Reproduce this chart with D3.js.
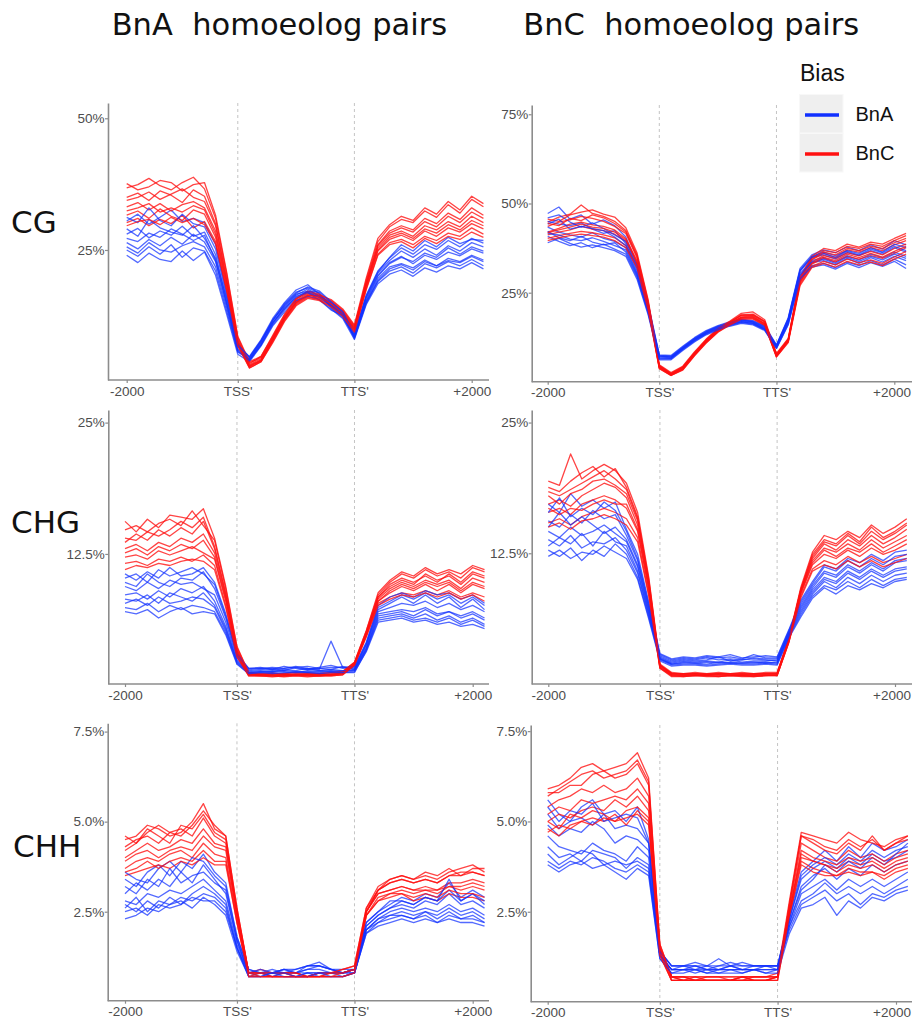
<!DOCTYPE html>
<html><head><meta charset="utf-8">
<script src="https://cdn.jsdelivr.net/npm/d3@7"></script>
<style>
body{margin:0;background:#fff}
svg{display:block}
text{white-space:pre}
</style>
</head><body>
<script>
// ---------- labels ----------
const columnTitles = ["BnA  homoeolog pairs", "BnC  homoeolog pairs"];
const contexts = ["CG", "CHG", "CHH"];
const xTickValues = [0, 1, 2, 3];
const xTickLabels = ["-2000", "TSS'", "TTS'", "+2000"];
const biasTitle = "Bias";
const biasLabels = ["BnA", "BnC"];
const binsPerRegion = 10;

const yTicksCG_A = [25, 50];            const yTickLabelsCG_A = ["25%", "50%"];
const yTicksCG_C = [25, 50, 75];        const yTickLabelsCG_C = ["25%", "50%", "75%"];
const yTicksCHG = [12.5, 25];           const yTickLabelsCHG = ["12.5%", "25%"];
const yTicksCHH = [2.5, 5, 7.5];        const yTickLabelsCHH = ["2.5%", "5.0%", "7.5%"];

// ---------- values (% methylation; 11 upstream, 10 gene body, 10 downstream bins) ----------
const cgA_BnA = [
 [30.5,31.8,29.9,31.2,32.6,30.4,31.0,30.2,26.0,16.8,7.2, 4.6,7.8,11.2,14.2,16.4,17.6,16.2,14.5,13.0,9.0, 16.4,21.0,23.5,25.4,24.2,26.0,25.1,26.8,25.6,27.2,26.3],
 [28.0,29.1,27.3,28.6,27.8,29.5,27.6,28.4,24.1,15.2,6.6, 4.2,7.4,11.6,14.8,17.0,17.8,16.8,14.0,12.2,8.6, 15.8,20.2,22.6,23.8,22.4,24.0,23.2,24.6,23.9,25.2,24.4],
 [26.4,25.2,27.0,25.8,27.4,26.1,28.0,26.5,22.8,14.6,6.0, 4.0,7.0,10.8,13.6,15.8,16.9,15.5,13.6,12.6,8.2, 15.2,19.6,21.8,22.4,21.6,23.1,22.0,23.4,22.8,24.0,23.1],
 [25.0,23.8,25.6,24.2,26.0,23.6,25.4,24.8,21.0,13.4,5.6, 4.4,7.6,11.8,14.4,16.6,17.2,17.0,15.0,13.4,8.4, 15.0,19.0,21.0,21.8,20.6,22.4,21.6,22.8,22.0,23.2,22.0],
 [24.0,22.6,24.4,23.2,22.8,24.8,23.0,24.6,20.2,12.8,5.2, 3.8,6.8,10.6,13.2,15.4,16.2,15.6,13.8,12.0,8.0, 14.6,18.6,20.4,21.2,20.0,21.6,20.8,22.0,21.4,22.6,21.4],
 [29.0,27.6,30.8,29.2,28.4,27.8,29.6,27.2,23.4,15.8,6.8, 4.8,8.0,12.0,15.0,17.4,18.4,16.6,14.6,12.8,8.8, 16.0,20.6,23.0,24.8,23.6,25.2,24.0,25.8,24.8,26.4,25.6],
 [27.2,26.6,28.2,27.4,29.0,28.0,26.8,27.8,23.0,14.8,6.2, 4.2,7.2,11.0,14.0,16.0,17.2,16.4,14.2,12.4,8.6, 15.4,20.0,22.4,23.6,22.8,24.4,23.6,25.4,24.2,25.6,24.8],
 [25.6,24.4,26.4,25.0,24.6,25.8,26.6,25.6,21.8,14.0,5.8, 4.0,7.0,11.2,13.8,16.2,17.0,16.0,14.4,12.6,8.4, 14.8,19.2,21.4,22.2,21.2,22.8,22.0,23.0,22.6,23.8,22.8],
 [31.2,30.2,33.0,30.6,29.6,31.8,30.0,29.4,25.2,16.2,7.0, 4.6,7.8,11.6,14.6,16.8,18.0,17.2,15.2,13.2,9.2, 16.2,20.8,23.6,26.0,24.8,26.8,25.6,27.4,26.2,27.0,26.8]
];
const cgA_BnC = [
 [36.8,37.4,38.6,37.2,36.4,37.8,38.8,36.6,31.0,20.4,8.4, 3.6,4.6,8.4,12.4,15.4,16.8,16.2,15.2,13.4,10.4, 19.2,26.6,29.4,30.8,30.2,32.4,31.2,33.6,32.0,34.6,33.2],
 [35.0,35.8,34.4,36.2,35.4,34.0,36.4,35.2,30.0,19.6,8.0, 3.2,4.4,8.0,12.0,15.2,16.6,16.0,15.0,13.2,10.2, 18.8,26.0,28.6,29.6,28.8,31.0,30.0,32.0,30.8,33.0,31.6],
 [33.2,34.0,32.6,33.8,32.4,33.6,34.2,33.0,28.6,18.8,7.6, 3.0,4.2,8.2,12.2,15.0,16.4,16.4,14.8,13.0,10.0, 18.4,25.4,27.8,28.6,27.6,29.6,28.8,30.4,29.4,31.4,30.2],
 [31.6,32.4,31.0,32.8,31.4,30.6,32.6,31.8,27.4,18.0,7.2, 2.8,4.0,7.8,11.8,14.8,16.2,15.8,14.6,12.8,9.8, 18.0,24.8,27.0,27.8,26.8,28.6,27.6,29.2,28.4,30.0,29.0],
 [30.2,31.0,29.6,30.8,30.0,31.6,29.2,30.4,26.6,17.4,7.0, 2.6,3.8,7.6,11.6,14.6,16.0,15.6,14.4,12.6,9.6, 17.6,24.2,26.4,27.0,26.0,27.6,26.8,28.2,27.6,29.2,28.0],
 [34.4,35.0,36.0,34.6,35.6,36.6,35.0,34.2,29.6,19.2,7.8, 3.4,4.8,8.6,12.6,15.6,17.2,16.6,15.4,13.6,10.6, 18.6,25.8,28.2,29.2,28.4,30.4,29.4,31.4,30.2,32.2,31.0],
 [37.6,36.4,37.0,38.2,37.8,36.2,37.4,37.8,31.6,20.8,8.6, 3.8,4.8,8.8,12.8,15.8,17.0,16.4,15.6,13.8,10.8, 19.6,27.2,29.8,31.4,30.6,33.0,31.8,34.2,32.6,35.2,33.8],
 [32.4,33.0,33.8,32.2,33.0,32.2,33.4,32.6,28.0,18.4,7.4, 2.9,4.1,8.0,12.0,15.0,16.4,16.0,14.8,13.0,10.0, 18.2,25.0,27.4,28.2,27.2,29.0,28.2,29.8,28.8,30.6,29.6],
 [29.6,30.4,30.8,29.8,31.2,30.2,31.0,29.8,26.2,17.2,6.8, 2.6,3.8,7.4,11.4,14.4,15.8,15.4,14.2,12.4,9.4, 17.4,24.0,26.0,26.6,25.4,27.2,26.2,27.6,27.0,28.4,27.4]
];
const cgC_BnA = [
 [47.2,49.0,45.6,46.8,44.2,45.4,43.8,40.6,33.0,22.0,7.6, 7.4,10.0,12.4,14.4,15.8,16.8,17.6,17.2,15.8,10.4, 18.0,31.8,35.6,37.0,36.2,37.8,36.8,38.4,37.2,39.6,38.4],
 [45.0,44.2,43.8,44.6,42.8,41.6,42.4,38.8,31.8,21.2,7.2, 7.0,9.6,12.0,14.0,15.4,16.4,17.2,16.8,15.2,10.0, 17.4,31.0,34.8,35.6,34.4,36.2,35.4,36.8,35.8,37.6,36.4],
 [43.4,42.0,41.2,40.6,41.8,40.2,39.4,37.6,30.6,20.4,7.0, 6.8,9.4,11.8,13.8,15.2,16.2,17.0,16.6,15.0,9.8, 17.0,30.4,34.0,34.8,33.6,35.4,34.2,35.8,34.8,36.4,35.2],
 [42.2,40.4,39.6,40.8,39.2,38.4,39.0,36.4,29.8,19.8,6.8, 6.6,9.2,11.6,13.6,15.0,16.0,16.8,16.4,14.8,9.6, 16.6,29.8,33.4,34.0,32.8,34.6,33.2,34.8,33.6,35.2,34.0],
 [40.8,39.4,38.2,39.0,37.6,38.6,37.2,35.8,29.4,19.2,6.4, 6.4,9.0,11.4,13.4,14.8,15.8,16.6,16.2,14.6,9.4, 16.2,29.2,32.6,33.2,32.0,33.6,32.6,34.0,32.8,34.4,32.8],
 [46.0,46.8,44.8,43.4,44.6,43.0,41.2,39.4,32.4,21.6,7.4, 7.2,9.8,12.2,14.2,15.6,16.6,17.4,17.0,15.6,10.2, 17.8,31.4,35.2,36.4,35.4,36.8,36.0,37.6,36.4,38.6,37.6],
 [44.2,45.6,42.8,43.6,43.0,42.4,40.6,38.2,31.2,20.8,7.2, 7.0,9.6,12.0,14.0,15.4,16.4,17.4,16.8,15.4,10.2, 17.6,31.2,35.0,36.0,34.8,36.6,35.6,37.2,36.2,38.0,36.8],
 [41.6,41.2,40.0,39.6,40.4,39.4,38.2,37.0,30.2,19.6,6.6, 6.6,9.2,11.6,13.6,15.0,16.0,16.8,16.4,14.8,9.8, 16.8,30.0,33.6,34.4,33.2,35.0,33.8,35.2,34.2,35.8,34.6],
 [39.0,40.2,38.8,37.8,38.4,37.6,36.8,35.2,28.8,18.8,6.2, 6.2,8.8,11.2,13.2,14.6,15.6,16.4,16.0,14.4,9.4, 16.0,28.8,32.2,32.8,31.6,33.2,32.0,33.4,32.4,33.8,31.8]
];
const cgC_BnC = [
 [44.8,46.2,47.0,49.6,47.2,46.4,45.0,42.4,35.6,22.6,4.6, 2.4,4.2,8.2,11.8,14.8,16.8,18.8,19.0,17.0,7.8, 12.0,29.0,34.8,36.8,36.2,38.0,37.4,38.6,38.0,39.6,41.0],
 [43.6,44.8,45.4,46.4,45.8,45.0,43.6,41.6,34.8,22.0,4.4, 2.2,4.0,8.0,11.6,14.6,16.6,18.6,18.6,16.8,7.6, 11.8,28.6,34.2,36.0,35.0,37.0,36.4,37.6,36.8,38.4,39.6],
 [42.0,43.0,44.2,44.8,44.0,43.6,42.6,40.2,34.0,21.4,4.2, 2.0,3.8,7.8,11.4,14.4,16.4,18.2,18.4,16.4,7.4, 11.6,28.2,33.6,35.4,34.6,36.2,35.4,36.6,35.6,37.4,38.6],
 [41.2,42.0,42.6,43.6,42.8,42.4,41.4,39.4,33.2,21.0,4.0, 1.9,3.6,7.6,11.2,14.2,16.2,18.0,18.0,16.2,7.2, 11.4,27.8,33.0,34.6,33.6,35.2,34.4,35.4,34.6,36.0,37.6],
 [40.2,41.0,41.6,42.2,41.8,41.2,40.4,38.2,32.6,20.6,3.8, 1.8,3.4,7.4,11.0,14.0,16.0,17.8,17.8,16.0,7.0, 11.2,27.4,32.4,33.8,32.8,34.4,33.4,34.2,33.2,35.0,36.6],
 [45.6,45.0,46.8,47.6,48.2,47.0,46.2,43.2,36.2,23.0,4.8, 2.6,4.4,8.4,12.0,15.0,17.0,19.2,19.6,17.4,8.0, 12.2,29.4,35.2,37.4,36.8,38.6,37.8,39.2,38.6,40.2,41.6],
 [44.4,43.8,45.8,45.2,46.8,46.0,44.4,42.0,35.2,22.2,4.5, 2.3,4.1,8.1,11.7,14.7,16.7,18.7,18.8,16.9,7.6, 11.9,28.8,34.4,36.4,35.6,37.4,36.8,38.0,37.4,39.0,40.2],
 [41.8,42.6,43.4,44.2,43.4,43.0,42.0,39.8,33.6,21.2,4.1, 2.0,3.7,7.7,11.3,14.3,16.3,18.1,18.2,16.3,7.2, 11.5,28.0,33.2,35.0,34.0,35.8,34.8,36.0,35.0,36.6,38.0],
 [39.6,40.4,41.0,41.4,41.0,40.6,39.6,37.6,32.0,20.2,3.7, 1.8,3.3,7.3,10.9,13.9,15.9,17.6,17.6,15.8,7.0, 11.0,27.0,32.0,33.2,32.2,33.8,32.8,33.6,32.6,34.4,35.8]
];
const chgA_BnA = [
 [10.2,10.6,9.8,11.0,10.4,10.8,11.2,10.6,9.6,6.6,2.9, 1.6,1.7,1.5,1.8,1.6,1.5,1.7,1.9,1.6,1.7, 4.0,7.4,8.0,8.6,8.2,8.8,8.2,8.6,7.8,8.4,7.6],
 [9.4,9.0,9.8,9.2,10.0,9.6,9.8,9.2,8.6,6.0,2.6, 1.4,1.5,1.6,1.4,1.7,1.5,1.6,1.5,1.8,1.5, 3.8,7.0,7.4,7.8,7.6,8.0,7.4,7.8,7.2,7.6,7.0],
 [8.6,8.8,8.2,9.0,8.4,9.2,8.8,9.4,8.0,5.6,2.4, 1.3,1.4,1.3,1.5,1.4,1.6,1.4,1.5,1.4,1.5, 3.6,6.8,7.0,7.2,7.0,7.4,6.8,7.0,6.6,7.0,6.4],
 [7.8,8.2,7.6,8.4,7.8,8.0,8.4,8.2,7.4,5.2,2.2, 1.2,1.3,1.4,1.3,1.2,1.4,1.3,1.4,1.3,1.4, 3.4,6.4,6.6,6.8,6.4,6.8,6.2,6.6,6.0,6.4,5.8],
 [7.0,6.8,7.2,6.4,7.0,7.4,6.8,7.0,6.8,4.8,2.0, 1.1,1.2,1.2,1.1,1.3,1.2,1.2,1.3,1.2,1.3, 3.2,6.0,6.2,6.4,6.0,6.2,5.8,6.0,5.6,5.8,5.4],
 [9.8,9.4,10.6,9.8,9.4,10.2,10.0,10.8,9.2,6.4,2.8, 1.5,1.6,1.5,1.6,1.8,1.6,1.5,4.2,1.7,1.6, 3.9,7.2,7.8,8.4,7.8,8.6,7.8,8.4,7.4,8.2,7.2],
 [10.6,10.0,10.8,10.2,11.2,10.4,10.6,11.2,9.8,6.8,3.0, 1.6,1.6,1.7,1.6,1.7,1.8,1.6,1.7,1.7,1.8, 4.1,7.6,8.4,8.8,8.4,9.0,8.6,8.8,8.2,8.6,7.8],
 [8.2,8.0,8.6,7.8,8.8,8.4,8.0,8.8,7.6,5.4,2.3, 1.2,1.3,1.3,1.4,1.3,1.3,1.4,1.3,1.4,1.4, 3.5,6.6,6.8,7.0,6.6,7.2,6.6,7.0,6.4,6.8,6.2],
 [7.4,7.2,7.8,7.0,7.6,7.2,7.6,7.4,7.0,5.0,2.1, 1.1,1.2,1.1,1.2,1.2,1.2,1.1,1.2,1.2,1.2, 3.3,6.2,6.4,6.6,6.2,6.4,6.0,6.4,5.8,6.2,5.6]
];
const chgA_BnC = [
 [14.8,15.2,14.6,15.4,15.8,15.2,16.6,15.2,13.8,9.2,3.6, 1.2,1.1,1.2,1.0,1.1,1.2,1.1,1.2,1.3,2.2, 5.2,8.6,9.8,10.6,10.2,11.0,10.4,10.8,10.2,11.2,10.8],
 [14.0,13.8,14.6,14.2,14.8,15.6,15.0,16.0,13.2,8.8,3.4, 1.1,1.0,1.1,1.0,1.0,1.1,1.0,1.1,1.2,2.1, 5.0,8.4,9.6,10.2,9.8,10.4,9.8,10.6,9.8,10.8,10.4],
 [13.0,13.4,12.8,13.6,13.2,14.0,13.6,14.4,12.6,8.4,3.2, 1.0,1.0,0.9,1.0,1.0,1.0,1.0,1.0,1.1,2.0, 4.9,8.2,9.2,9.8,9.4,10.0,9.6,10.0,9.2,10.2,9.8],
 [12.2,12.4,12.0,12.8,12.4,12.8,13.2,12.6,12.0,8.0,3.0, 1.0,0.9,0.9,0.9,1.0,0.9,0.9,1.0,1.1,2.0, 4.8,8.0,8.8,9.4,9.0,9.6,9.0,9.6,8.8,9.6,9.2],
 [11.6,11.8,11.4,12.0,11.8,12.2,11.8,12.4,11.4,7.6,2.8, 0.9,0.9,0.8,0.9,0.9,0.9,0.9,0.9,1.0,1.9, 4.7,7.8,8.4,8.8,8.6,9.0,8.6,9.0,8.4,8.8,8.4],
 [13.6,14.4,13.8,14.8,14.2,15.0,14.4,15.6,13.0,8.6,3.3, 1.1,1.0,1.0,1.1,1.0,1.0,1.1,1.0,1.2,2.1, 5.0,8.4,9.4,10.0,9.6,10.6,10.0,10.4,9.6,10.6,10.2],
 [15.6,14.6,15.8,15.0,16.2,16.0,15.8,16.8,14.0,9.4,3.7, 1.2,1.1,1.1,1.1,1.2,1.1,1.1,1.2,1.3,2.2, 5.2,8.8,10.0,10.8,10.4,11.2,10.6,11.0,10.6,11.4,11.0],
 [12.6,13.0,12.4,13.2,12.8,13.4,13.0,13.8,12.2,8.2,3.1, 1.0,1.0,1.0,0.9,1.0,1.0,0.9,1.0,1.1,2.0, 4.8,8.0,9.0,9.6,9.2,9.8,9.4,9.8,9.0,9.8,9.4],
 [11.0,11.4,11.2,11.6,11.4,11.8,12.0,11.8,11.0,7.4,2.7, 0.9,0.9,0.9,0.8,0.9,0.8,0.9,0.9,1.0,1.9, 4.6,7.6,8.2,8.6,8.4,8.8,8.4,8.8,8.2,8.6,8.0]
];
const chgC_BnA = [
 [17.2,16.4,18.2,17.0,17.6,16.8,17.4,14.8,12.4,7.8,2.9, 2.4,2.6,2.5,2.7,2.6,2.8,2.5,2.6,2.7,2.6, 5.2,8.0,9.8,11.4,11.0,12.0,11.6,12.4,11.8,12.6,12.8],
 [15.6,15.0,16.2,15.4,16.6,15.8,16.2,14.2,11.8,7.4,2.7, 2.2,2.4,2.3,2.5,2.3,2.4,2.3,2.5,2.4,2.4, 5.0,7.6,9.4,10.8,10.4,11.4,10.8,11.6,11.0,11.8,12.0],
 [14.6,14.0,15.0,14.2,14.6,15.2,14.4,13.6,11.2,7.0,2.5, 2.0,2.2,2.1,2.2,2.1,2.3,2.1,2.2,2.2,2.3, 4.8,7.2,9.0,10.2,9.8,10.8,10.2,11.0,10.4,11.0,11.2],
 [13.8,13.2,14.2,13.0,13.6,13.4,14.0,12.8,10.6,6.6,2.4, 1.9,2.0,2.0,1.9,2.1,2.0,2.0,2.1,2.0,2.1, 4.6,6.8,8.6,9.8,9.2,10.2,9.6,10.4,9.8,10.4,10.6],
 [12.2,12.8,12.0,12.6,12.4,13.2,12.6,12.0,10.0,6.2,2.2, 1.7,1.8,1.8,1.7,1.8,1.9,1.8,1.8,1.9,1.8, 4.4,6.4,8.2,9.2,8.6,9.4,9.0,9.6,9.2,9.8,10.0],
 [15.0,16.4,15.2,16.0,15.2,14.4,15.0,13.8,11.4,7.2,2.6, 2.1,2.3,2.2,2.3,2.6,2.2,2.3,2.4,2.3,2.2, 4.9,7.4,9.2,10.6,10.2,11.2,10.6,11.4,10.8,11.6,11.8],
 [16.4,17.8,16.0,16.8,16.2,17.4,16.6,14.6,12.0,7.6,2.8, 2.3,2.5,2.4,2.6,2.5,2.6,2.4,2.8,2.5,2.5, 5.1,7.8,9.6,11.2,10.8,11.8,11.2,12.0,11.4,12.2,12.4],
 [13.2,14.0,13.4,14.4,13.2,14.6,13.6,13.2,10.8,6.8,2.4, 1.9,2.1,2.0,2.1,2.0,2.1,2.0,2.0,2.1,2.0, 4.7,7.0,8.8,10.0,9.6,10.6,10.0,10.8,10.2,10.8,11.0],
 [12.8,12.2,13.0,11.8,12.8,12.2,13.4,12.4,10.2,6.4,2.3, 1.8,1.9,1.9,1.8,1.9,2.0,1.9,1.9,2.0,1.9, 4.5,6.6,8.4,9.4,9.0,9.8,9.2,10.0,9.4,10.0,10.2]
];
const chgC_BnC = [
 [19.4,19.0,22.0,19.6,20.4,21.0,20.4,19.2,16.4,10.2,1.9, 1.1,1.0,1.1,1.0,1.1,1.0,1.1,1.0,1.1,1.1, 4.4,9.2,12.6,14.2,13.8,14.6,14.0,15.2,14.4,15.0,15.8],
 [18.4,18.0,18.6,19.2,19.8,20.4,19.6,18.6,15.8,9.8,1.8, 1.0,1.0,1.0,0.9,1.0,1.0,0.9,1.0,1.0,1.0, 4.3,9.0,12.2,13.6,13.2,14.2,13.4,14.6,13.8,14.4,15.2],
 [17.2,17.6,17.0,18.0,18.6,19.2,18.8,17.8,15.2,9.4,1.7, 0.9,0.9,0.9,0.9,0.9,0.9,0.9,0.9,0.9,0.9, 4.2,8.8,11.8,13.0,12.6,13.4,12.8,13.8,13.0,13.6,14.2],
 [16.4,16.8,16.2,17.2,17.6,18.0,17.6,16.8,14.6,9.0,1.6, 0.8,0.8,0.9,0.8,0.8,0.8,0.8,0.8,0.8,0.9, 4.1,8.6,11.4,12.4,12.0,12.8,12.2,13.0,12.4,12.8,13.4],
 [15.4,15.8,15.2,16.0,16.4,16.8,16.4,15.8,14.0,8.6,1.5, 0.8,0.7,0.8,0.8,0.7,0.8,0.8,0.7,0.8,0.8, 4.0,8.4,11.0,11.8,11.4,12.2,11.6,12.2,11.6,12.0,12.4],
 [18.8,18.4,19.4,20.2,20.8,19.8,20.6,18.8,16.0,10.0,1.8, 1.0,1.0,1.0,1.0,1.0,1.0,1.0,1.0,1.0,1.0, 4.3,9.0,12.4,13.8,13.4,14.4,13.6,15.0,14.0,14.6,15.4],
 [18.0,17.2,18.2,18.6,19.4,19.6,19.0,18.2,15.6,9.6,1.8, 1.0,0.9,1.0,0.9,1.0,0.9,1.0,0.9,1.0,1.0, 4.3,8.9,12.0,13.4,12.8,13.8,13.2,14.2,13.4,14.0,14.8],
 [16.8,16.2,16.8,16.6,17.2,17.6,17.2,17.2,14.8,9.2,1.6, 0.9,0.8,0.8,0.8,0.9,0.8,0.8,0.8,0.9,0.8, 4.1,8.7,11.6,12.8,12.2,13.0,12.6,13.4,12.6,13.2,13.8],
 [15.0,15.4,14.8,15.6,15.8,16.2,15.8,15.2,13.6,8.4,1.5, 0.7,0.7,0.8,0.7,0.7,0.8,0.7,0.7,0.8,0.8, 4.0,8.2,10.8,11.4,11.0,11.8,11.2,11.8,11.2,11.6,12.0]
];
const chhA_BnA = [
 [3.4,3.2,3.6,3.8,3.5,3.9,3.7,4.1,3.6,3.3,1.8, 0.9,0.8,0.9,0.8,0.9,1.0,1.1,0.9,0.9,0.9, 2.2,2.5,2.7,2.9,2.8,3.0,2.9,3.3,2.9,3.1,2.9],
 [3.0,3.3,3.1,3.4,3.2,3.6,3.3,3.8,3.4,3.0,1.7, 0.8,0.8,0.8,0.9,0.8,0.9,1.0,0.9,0.8,0.9, 2.1,2.4,2.6,2.7,2.6,2.8,2.7,3.0,2.7,2.8,2.6],
 [2.8,2.7,3.0,2.9,3.1,3.0,3.2,3.4,3.1,2.8,1.6, 0.8,0.8,0.8,0.8,0.8,0.9,0.9,0.8,0.8,0.8, 2.0,2.3,2.5,2.6,2.5,2.6,2.5,2.7,2.5,2.6,2.4],
 [2.6,2.9,2.5,2.8,2.7,2.9,2.8,3.0,2.9,2.6,1.5, 0.7,0.8,0.7,0.8,0.8,0.8,0.8,0.8,0.7,0.8, 2.0,2.2,2.4,2.4,2.3,2.5,2.3,2.5,2.3,2.4,2.2],
 [2.3,2.4,2.6,2.5,2.7,2.8,2.6,2.9,2.7,2.4,1.4, 0.7,0.7,0.7,0.7,0.7,0.8,0.7,0.7,0.7,0.8, 1.9,2.1,2.2,2.3,2.2,2.3,2.2,2.3,2.2,2.2,2.1],
 [3.2,3.0,3.4,3.2,3.7,3.3,3.5,3.6,3.3,3.1,1.7, 0.8,0.9,0.8,0.9,0.8,1.0,1.0,0.9,0.8,0.9, 2.1,2.4,2.6,2.8,2.7,2.9,2.8,3.4,2.8,3.0,2.8],
 [3.6,3.4,3.3,3.7,3.9,3.6,4.0,3.9,3.5,3.2,1.8, 0.9,0.8,0.8,0.9,0.9,1.0,1.0,0.9,0.8,0.9, 2.2,2.5,2.8,2.8,2.7,2.9,2.8,3.1,2.8,3.0,2.7],
 [2.7,2.5,2.8,2.6,2.9,2.7,3.0,3.2,3.0,2.7,1.5, 0.8,0.7,0.8,0.8,0.7,0.8,0.8,0.8,0.8,0.8, 2.0,2.3,2.4,2.5,2.4,2.5,2.4,2.6,2.4,2.5,2.3],
 [2.5,2.6,2.4,2.7,2.6,2.7,2.9,2.8,2.8,2.5,1.5, 0.7,0.7,0.8,0.7,0.7,0.7,0.8,0.7,0.7,0.8, 1.9,2.2,2.3,2.4,2.3,2.4,2.2,2.4,2.3,2.3,2.2]
];
const chhA_BnC = [
 [4.5,4.6,4.9,4.8,4.6,4.7,5.0,5.5,4.8,4.6,2.6, 0.8,0.9,0.8,0.8,0.8,0.7,0.8,0.8,0.9,1.0, 2.6,3.2,3.4,3.5,3.4,3.5,3.4,3.6,3.7,3.8,3.6],
 [4.3,4.5,4.6,4.4,4.7,4.8,4.6,5.1,4.6,4.4,2.5, 0.8,0.8,0.8,0.8,0.7,0.7,0.8,0.8,0.8,0.9, 2.5,3.1,3.3,3.4,3.3,3.4,3.3,3.5,3.6,3.6,3.5],
 [4.0,4.2,4.4,4.2,4.3,4.5,4.4,4.8,4.4,4.3,2.4, 0.8,0.8,0.7,0.8,0.7,0.7,0.7,0.8,0.8,0.9, 2.5,3.0,3.1,3.2,3.1,3.2,3.1,3.3,3.3,3.4,3.3],
 [3.7,3.9,4.0,3.9,4.1,4.2,4.0,4.4,4.1,4.0,2.3, 0.7,0.8,0.7,0.7,0.7,0.7,0.7,0.7,0.8,0.9, 2.4,2.9,3.0,3.1,3.0,3.1,3.0,3.2,3.1,3.2,3.1],
 [3.5,3.6,3.7,3.8,3.7,3.9,3.8,4.0,3.8,3.8,2.2, 0.7,0.7,0.7,0.7,0.7,0.7,0.7,0.7,0.7,0.8, 2.4,2.8,2.9,3.0,2.8,2.9,2.8,3.0,2.9,2.9,2.8],
 [4.2,4.4,4.8,4.6,4.4,4.9,4.8,5.2,4.7,4.5,2.5, 0.8,0.8,0.8,0.8,0.8,0.7,0.8,0.8,0.8,0.9, 2.5,3.1,3.3,3.4,3.3,3.4,3.3,3.5,3.5,3.6,3.5],
 [4.6,4.4,4.7,4.9,4.7,4.6,4.9,5.3,4.9,4.6,2.6, 0.8,0.8,0.8,0.8,0.8,0.7,0.8,0.8,0.9,1.0, 2.6,3.1,3.4,3.5,3.4,3.6,3.5,3.7,3.5,3.7,3.7],
 [3.9,4.1,4.2,4.0,4.2,4.3,4.2,4.6,4.3,4.2,2.4, 0.8,0.7,0.7,0.7,0.7,0.7,0.7,0.8,0.8,0.9, 2.5,3.0,3.1,3.2,3.1,3.1,3.1,3.2,3.2,3.3,3.2],
 [3.6,3.7,3.9,3.7,3.9,4.0,3.9,4.2,3.9,3.9,2.2, 0.7,0.7,0.7,0.7,0.7,0.7,0.7,0.7,0.7,0.8, 2.4,2.8,3.0,3.0,2.9,3.0,2.9,3.1,3.0,3.0,2.9]
];
const chhC_BnA = [
 [5.6,5.2,5.0,5.4,5.6,5.2,5.3,5.0,5.4,4.5,1.4, 1.0,1.0,1.1,1.0,1.2,1.0,1.1,1.0,1.0,1.0, 2.4,3.6,3.9,4.2,3.9,4.3,4.0,4.4,4.2,4.3,4.5],
 [5.2,4.8,5.0,5.1,4.9,5.2,4.8,4.9,4.8,4.4,1.4, 1.0,1.0,1.0,0.9,1.0,1.0,1.0,1.0,1.0,1.0, 2.3,3.4,3.7,3.9,3.7,4.0,3.8,4.1,3.9,4.0,4.2],
 [4.9,4.6,4.8,4.7,5.0,4.8,4.4,4.6,4.5,4.2,1.3, 0.9,0.9,1.0,0.9,0.9,1.0,0.9,0.9,1.0,0.9, 2.2,3.2,3.5,3.7,3.4,3.7,3.5,3.8,3.6,3.8,3.9],
 [4.3,4.0,4.1,3.9,4.2,4.1,4.0,3.7,4.0,3.8,1.3, 0.9,0.9,0.9,0.9,0.9,0.9,0.9,0.9,0.9,0.9, 2.1,3.0,3.2,3.4,3.1,3.4,3.2,3.4,3.2,3.4,3.6],
 [3.9,3.7,3.9,3.8,4.0,3.9,3.7,3.6,3.8,3.6,1.2, 0.8,0.9,0.8,0.9,0.8,0.9,0.8,0.9,0.8,0.9, 2.0,2.7,2.9,3.1,2.8,3.0,2.7,3.0,2.9,3.1,3.2],
 [4.6,4.3,4.2,4.1,4.4,4.2,4.1,3.9,4.3,4.0,1.3, 0.9,1.0,0.9,1.0,0.9,1.0,0.9,1.0,1.0,1.0, 2.2,3.1,3.4,3.8,3.6,3.9,3.7,4.0,3.8,4.1,4.4],
 [5.4,5.0,5.3,5.2,5.5,5.0,5.1,5.2,5.1,4.4,1.4, 1.0,1.0,1.0,1.0,1.0,1.1,1.0,1.0,1.0,1.0, 2.3,3.5,3.8,4.0,3.8,4.1,3.9,4.2,4.0,4.2,4.3],
 [4.1,3.8,4.0,4.2,4.1,3.8,3.9,3.8,3.9,3.7,1.3, 0.9,0.9,0.9,0.8,0.9,0.9,0.9,0.9,0.9,0.9, 2.1,2.8,3.0,3.3,3.0,3.2,3.0,3.2,3.0,3.2,3.4],
 [3.8,3.6,3.8,3.9,3.7,3.8,3.6,3.4,3.7,3.5,1.2, 0.8,0.8,0.9,0.8,0.8,0.8,0.8,0.9,0.8,0.8, 1.9,2.6,2.7,2.9,2.4,2.8,2.6,2.9,2.8,3.0,3.1]
];
const chhC_BnC = [
 [5.9,6.0,6.2,6.5,6.6,6.4,6.5,6.6,6.9,6.2,1.6, 0.7,0.7,0.7,0.7,0.7,0.7,0.7,0.7,0.7,0.8, 2.8,4.7,4.6,4.5,4.4,4.7,4.5,4.4,4.3,4.5,4.6],
 [5.8,5.8,6.0,6.0,6.3,6.4,6.2,6.3,6.6,6.0,1.5, 0.7,0.7,0.6,0.7,0.7,0.6,0.7,0.7,0.7,0.7, 2.7,4.6,4.4,4.2,4.1,4.4,4.2,4.6,4.2,4.4,4.5],
 [5.4,5.6,5.7,5.9,5.8,6.0,5.8,5.9,6.2,5.7,1.5, 0.7,0.7,0.6,0.6,0.6,0.6,0.6,0.7,0.7,0.7, 2.6,4.4,4.2,4.0,3.9,4.2,4.0,4.1,3.9,4.1,4.2],
 [5.0,5.2,5.1,5.3,5.4,5.3,5.6,5.4,5.7,5.3,1.4, 0.6,0.6,0.6,0.6,0.6,0.6,0.6,0.6,0.6,0.7, 2.5,4.1,3.9,3.8,3.7,3.9,3.8,3.9,3.7,3.9,4.0],
 [4.8,4.6,4.9,5.0,5.1,5.0,5.2,4.9,5.3,5.0,1.3, 0.6,0.6,0.6,0.6,0.6,0.6,0.6,0.6,0.6,0.6, 2.4,3.9,3.7,3.6,3.5,3.7,3.6,3.6,3.5,3.7,3.8],
 [5.0,4.8,5.2,5.1,5.3,5.2,5.0,5.3,5.4,5.1,1.4, 0.7,0.6,0.7,0.6,0.6,0.6,0.7,0.6,0.6,0.7, 2.5,4.0,3.9,3.8,3.6,3.8,3.7,3.8,3.6,3.8,3.9],
 [5.7,5.9,6.1,6.3,6.4,6.2,6.3,6.4,6.7,6.1,1.6, 0.7,0.7,0.7,0.7,0.7,0.7,0.7,0.7,0.7,0.7, 2.7,4.6,4.5,4.3,4.2,4.5,4.3,4.5,4.2,4.4,4.6],
 [5.2,5.4,5.3,5.6,5.5,5.6,5.7,5.6,5.9,5.5,1.5, 0.7,0.6,0.6,0.6,0.6,0.6,0.7,0.6,0.6,0.7, 2.5,4.2,4.0,3.9,3.8,4.0,3.9,4.0,3.8,4.0,4.1],
 [4.7,4.9,4.8,5.0,4.9,5.1,5.0,5.1,5.2,4.9,1.3, 0.6,0.6,0.6,0.6,0.6,0.6,0.6,0.6,0.6,0.6, 2.4,3.8,3.6,3.5,3.5,3.6,3.5,3.6,3.4,3.6,3.7]
];

// ---------- layout ----------
const W = 912, H = 1021;
const colors = {BnA: "#1030ff", BnC: "#ff1010"};
const panels = [
 {left:108, right:489, top:103, bottom:380, x0:126.7, x3:471.7, yDomain:[0.32,52.9], ticks:yTicksCG_A, tickLabels:yTickLabelsCG_A, a:cgA_BnA, c:cgA_BnC},
 {left:531.7, right:912, top:105, bottom:381.7, x0:547.7, x3:894.3, yDomain:[0.06,77.6], ticks:yTicksCG_C, tickLabels:yTickLabelsCG_C, a:cgC_BnA, c:cgC_BnC},
 {left:108.3, right:489, top:410, bottom:684, x0:125, x3:472.7, yDomain:[0.12,26.2], ticks:yTicksCHG, tickLabels:yTickLabelsCHG, a:chgA_BnA, c:chgA_BnC},
 {left:531.7, right:912, top:410, bottom:684, x0:548.3, x3:895, yDomain:[0,26.2], ticks:yTicksCHG, tickLabels:yTickLabelsCHG, a:chgC_BnA, c:chgC_BnC},
 {left:107.7, right:489, top:723.3, bottom:1000.7, x0:125, x3:472.7, yDomain:[0.03,7.73], ticks:yTicksCHH, tickLabels:yTickLabelsCHH, a:chhA_BnA, c:chhA_BnC},
 {left:530.7, right:912, top:725, bottom:1001.7, x0:547.7, x3:896, yDomain:[0.01,7.67], ticks:yTicksCHH, tickLabels:yTickLabelsCHH, a:chhC_BnA, c:chhC_BnC}
];
const regionFrac = [0, 0.322, 0.66, 1];

const svg = d3.select("body").append("svg").attr("width", W).attr("height", H);

// column titles
const titleX = [111.7, 523.3];
columnTitles.forEach((t, i) => {
  svg.append("text").attr("x", titleX[i]).attr("y", 35)
    .attr("font-family", "DejaVu Sans").attr("font-size", 30.5).attr("fill", "#111").text(t);
});
// row labels
const rowLabelPos = [[11, 233], [11, 533], [13, 857]];
contexts.forEach((t, i) => {
  svg.append("text").attr("x", rowLabelPos[i][0]).attr("y", rowLabelPos[i][1])
    .attr("font-family", "DejaVu Sans").attr("font-size", 31).attr("fill", "#111").text(t);
});

const axisColor = "#8c8c8c";
const tickTextColor = "#4d4d4d";
const tickFont = "Liberation Sans, Arial, sans-serif";

panels.forEach(p => {
  const g = svg.append("g");
  const span = p.x3 - p.x0;
  const x = d3.scaleLinear().domain(xTickValues).range(regionFrac.map(f => p.x0 + f * span));
  const y = d3.scaleLinear().domain(p.yDomain).range([p.bottom, p.top]);

  // dashed region boundaries
  [1, 2].forEach(v => {
    g.append("line").attr("x1", x(v)).attr("x2", x(v)).attr("y1", p.top).attr("y2", p.bottom)
      .attr("stroke", "#c4c4c4").attr("stroke-width", 1).attr("stroke-dasharray", "3,3");
  });

  // lines (pairs interleaved)
  const line = d3.line().x((d, i) => x(i / binsPerRegion)).y(d => y(d));
  const n = Math.max(p.a.length, p.c.length);
  for (let i = 0; i < n; i++) {
    if (p.a[i]) g.append("path").attr("d", line(p.a[i])).attr("fill", "none")
      .attr("stroke", colors.BnA).attr("stroke-width", 1.3).attr("stroke-opacity", 0.72).attr("stroke-linejoin", "round");
    if (p.c[i]) g.append("path").attr("d", line(p.c[i])).attr("fill", "none")
      .attr("stroke", colors.BnC).attr("stroke-width", 1.3).attr("stroke-opacity", 0.78).attr("stroke-linejoin", "round");
  }

  // y axis
  const ya = g.append("g").attr("transform", `translate(${p.left},0)`)
    .call(d3.axisLeft(y).tickValues(p.ticks).tickFormat((d, i) => p.tickLabels[i]).tickSize(3).tickSizeOuter(0));
  ya.select(".domain").attr("stroke", axisColor).attr("stroke-width", 1.6);
  ya.selectAll(".tick line").attr("stroke", axisColor).attr("stroke-width", 1.2);
  ya.selectAll(".tick text").attr("x", -3.5).attr("fill", tickTextColor)
    .attr("font-family", tickFont).attr("font-size", 13.5);

  // x axis
  const xa = g.append("g").attr("transform", `translate(0,${p.bottom})`)
    .call(d3.axisBottom(x).tickValues(xTickValues).tickFormat((d, i) => xTickLabels[i]).tickSize(3).tickSizeOuter(0));
  xa.select(".domain").remove();
  xa.append("line").attr("x1", p.left).attr("x2", p.right).attr("y1", 0).attr("y2", 0)
    .attr("stroke", axisColor).attr("stroke-width", 1.6);
  xa.selectAll(".tick line").attr("stroke", axisColor).attr("stroke-width", 1.2);
  xa.selectAll(".tick text").attr("y", 6).attr("fill", tickTextColor)
    .attr("font-family", tickFont).attr("font-size", 13.5)
    .each(function () {
      // keep labels inside the page
      const bb = this.getBBox();
      const tr = this.parentNode.getAttribute("transform");
      const tx = +/translate\(([-\d.]+)/.exec(tr)[1];
      const over = tx + bb.x + bb.width - (W - 1);
      if (over > 0) d3.select(this).attr("dx", -over);
    });
});

// legend
const lg = svg.append("g");
lg.append("text").attr("x", 800).attr("y", 81).attr("font-family", tickFont)
  .attr("font-size", 23).attr("fill", "#111").text(biasTitle);
biasLabels.forEach((lab, i) => {
  const top = 94.5 + i * 39;
  lg.append("rect").attr("x", 799.5).attr("y", top).attr("width", 43.5).attr("height", 38.5)
    .attr("fill", "#efefef").attr("stroke", "#f8f8f8").attr("stroke-width", 1);
  lg.append("line").attr("x1", 805).attr("x2", 839).attr("y1", top + 20.5).attr("y2", top + 20.5)
    .attr("stroke", colors[lab]).attr("stroke-width", 3.4);
  lg.append("text").attr("x", 855.5).attr("y", top + 26.5).attr("font-family", tickFont)
    .attr("font-size", 20).attr("fill", "#111").text(lab);
});
</script>
</body></html>
